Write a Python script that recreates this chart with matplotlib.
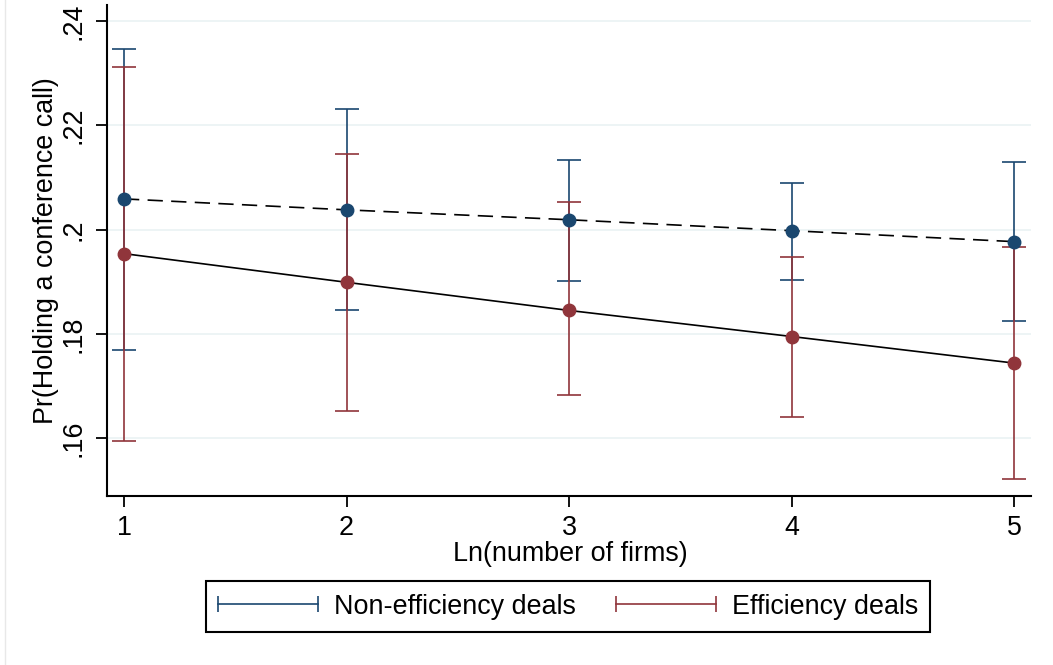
import matplotlib
matplotlib.use("Agg")
import matplotlib.pyplot as plt
from matplotlib.lines import Line2D
from matplotlib.legend_handler import HandlerLine2D
import numpy as np

# ---- data ----
x_vals = [1, 2, 3, 4, 5]
non_eff_mean = [0.2059, 0.2038, 0.2019, 0.1998, 0.1977]
non_eff_lo = [0.1770, 0.1845, 0.1902, 0.1904, 0.1824]
non_eff_hi = [0.2346, 0.2232, 0.2134, 0.2090, 0.2130]
eff_mean = [0.1954, 0.1899, 0.1845, 0.1795, 0.1744]
eff_lo = [0.1594, 0.1652, 0.1682, 0.1640, 0.1522]
eff_hi = [0.2312, 0.2145, 0.2054, 0.1948, 0.1966]
y_ticks = [0.16, 0.18, 0.20, 0.22, 0.24]
y_ticklabels = [".16", ".18", ".2", ".22", ".24"]
x_ticks = [1, 2, 3, 4, 5]
series_labels = ["Non-efficiency deals", "Efficiency deals"]
x_label = "Ln(number of firms)"
y_label = "Pr(Holding a conference call)"

BLUE = "#1a476f"
RED = "#90353b"
FS = 19.4

plt.rcParams['font.family'] = ['Liberation Sans', 'DejaVu Sans']
plt.rcParams['lines.scale_dashes'] = False

W, H = 1053, 665
fig = plt.figure(figsize=(W / 100, H / 100), dpi=100)
fig.patch.set_facecolor("white")
ax = fig.add_axes([107 / W, 1 - 496 / H, (1031 - 107) / W, (496 - 5) / H])

x = np.array(x_vals, dtype=float)
m1 = np.array(non_eff_mean); m2 = np.array(eff_mean)
err1 = [m1 - np.array(non_eff_lo), np.array(non_eff_hi) - m1]
err2 = [m2 - np.array(eff_lo), np.array(eff_hi) - m2]

# grid
for yt in y_ticks:
    ax.axhline(yt, color="#eaf2f3", lw=1.2, zorder=0)

ax.errorbar(x, m1, yerr=err1, fmt="none", ecolor=BLUE, elinewidth=1.2,
            capsize=8.5, capthick=1.2, zorder=2)
ax.errorbar(x, m2, yerr=err2, fmt="none", ecolor=RED, elinewidth=1.2,
            capsize=8.5, capthick=1.2, zorder=2.1)
ax.plot(x, m1, color="black", lw=1.2, linestyle=(0, (11, 6)), zorder=3)
ax.plot(x, m2, color="black", lw=1.2, linestyle="-", zorder=3)
ax.plot(x, m1, "o", color=BLUE, ms=9, mec=BLUE, zorder=4)
ax.plot(x, m2, "o", color=RED, ms=9, mec=RED, zorder=4)

ax.set_xlim(0.9236, 5.076)
ax.set_ylim(0.1489, 0.2431)
ax.set_xticks(x_ticks)
ax.set_xticklabels([str(v) for v in x_ticks], fontsize=FS)
ax.set_yticks(y_ticks)
ax.set_yticklabels(y_ticklabels, fontsize=FS, rotation=90, va="center")

for s in ["top", "right"]:
    ax.spines[s].set_visible(False)
for s in ["left", "bottom"]:
    ax.spines[s].set_linewidth(1.5)
    ax.spines[s].set_color("black")
ax.tick_params(axis="both", direction="out", length=8, width=1.3, color="black")
ax.tick_params(axis="x", pad=6)
ax.tick_params(axis="y", pad=7)

ax.set_xlabel(x_label, fontsize=FS)
ax.set_ylabel(y_label, fontsize=FS)
ax.xaxis.set_label_coords(((454 + 686) / 2 - 107) / (1031 - 107), -(554 - 496) / (496 - 5))
ax.xaxis.label.set_va("center")
ax.yaxis.set_label_coords(-(107 - 46) / (1031 - 107), 0.5)
ax.yaxis.label.set_va("center")

handles = [Line2D([], [], color=BLUE, lw=1.2, marker="|", ms=12, mew=1.2),
           Line2D([], [], color=RED, lw=1.2, marker="|", ms=12, mew=1.2)]
hmap = {h: HandlerLine2D(marker_pad=0, numpoints=2) for h in handles}
leg = fig.legend(handles, series_labels, loc="center", ncol=2,
                 bbox_to_anchor=(568 / W, 1 - 606.5 / H), fontsize=FS,
                 handler_map=hmap, handlelength=3.7, handletextpad=0.6,
                 columnspacing=1.5, borderpad=0.45, fancybox=False,
                 framealpha=1, edgecolor="black")
leg.get_frame().set_linewidth(1.5)

fig.add_artist(Line2D([4.5 / W, 4.5 / W], [0, 1], color="#e8e8e8", lw=1))

fig.savefig("out.png", dpi=100, facecolor="white")
